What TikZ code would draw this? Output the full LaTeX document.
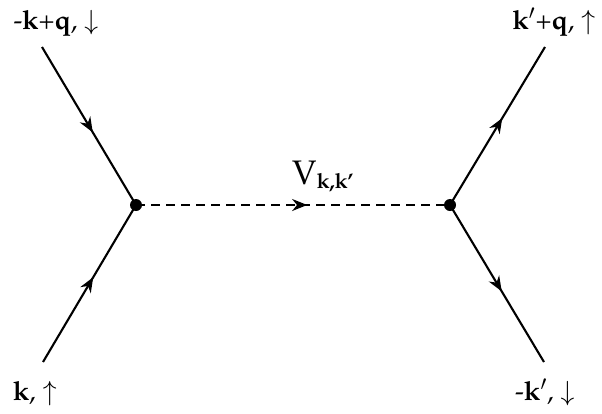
\documentclass[tikz,border=0pt]{standalone}
\usepackage[T1]{fontenc}
\usepackage{mathpazo}
\usetikzlibrary{arrows.meta,decorations.markings}
\tikzset{
  fermion/.style={line width=2.1pt, postaction={decorate},
    decoration={markings, mark=at position #1 with {\arrow{Stealth[length=15pt,width=12pt]}}}},
  boson/.style={line width=2.1pt, dash pattern=on 9pt off 6pt, postaction={decorate},
    decoration={markings, mark=at position #1 with {\arrow{Stealth[length=15pt,width=12pt]}}}},
  vdot/.style={circle, fill=black, inner sep=0pt, minimum size=12pt},
  lbl/.style={inner sep=0pt, font=\fontsize{26.5}{31}\selectfont}
}
\begin{document}
\begin{tikzpicture}[x=1pt,y=-1pt]
\useasboundingbox (0,0) rectangle (602,413);
\coordinate (A) at (42,47);
\coordinate (B) at (43,362);
\coordinate (C) at (545,47);
\coordinate (D) at (544,362);
\node[vdot] (L) at (136,205) {};
\node[vdot] (R) at (450,205) {};
\draw[fermion=0.54] (A) -- (L.center);
\draw[fermion=0.54] (B) -- (L.center);
\draw[fermion=0.55] (R.center) -- (C);
\draw[fermion=0.55] (R.center) -- (D);
\draw[boson=0.545] (L.center) -- (R.center);
\node[lbl, anchor=base] (tl) at (56,29) {-\textbf{k}+\textbf{q}, $\downarrow$};
\node[lbl, anchor=base] (tr) at (554,29) {\textbf{k}$'$+\textbf{q}, $\uparrow$};
\node[lbl, anchor=base] (bl) at (35,400) {\textbf{k}, $\uparrow$};
\node[lbl, anchor=base] (br) at (545,400) {-\textbf{k}$'$, $\downarrow$};
\node[inner sep=0pt, anchor=base west] (V) at (292,184)
  {\fontsize{34}{40}\selectfont V\raisebox{-4pt}{\fontsize{21}{25}\selectfont\textbf{k,k'}}};
\end{tikzpicture}
\end{document}
